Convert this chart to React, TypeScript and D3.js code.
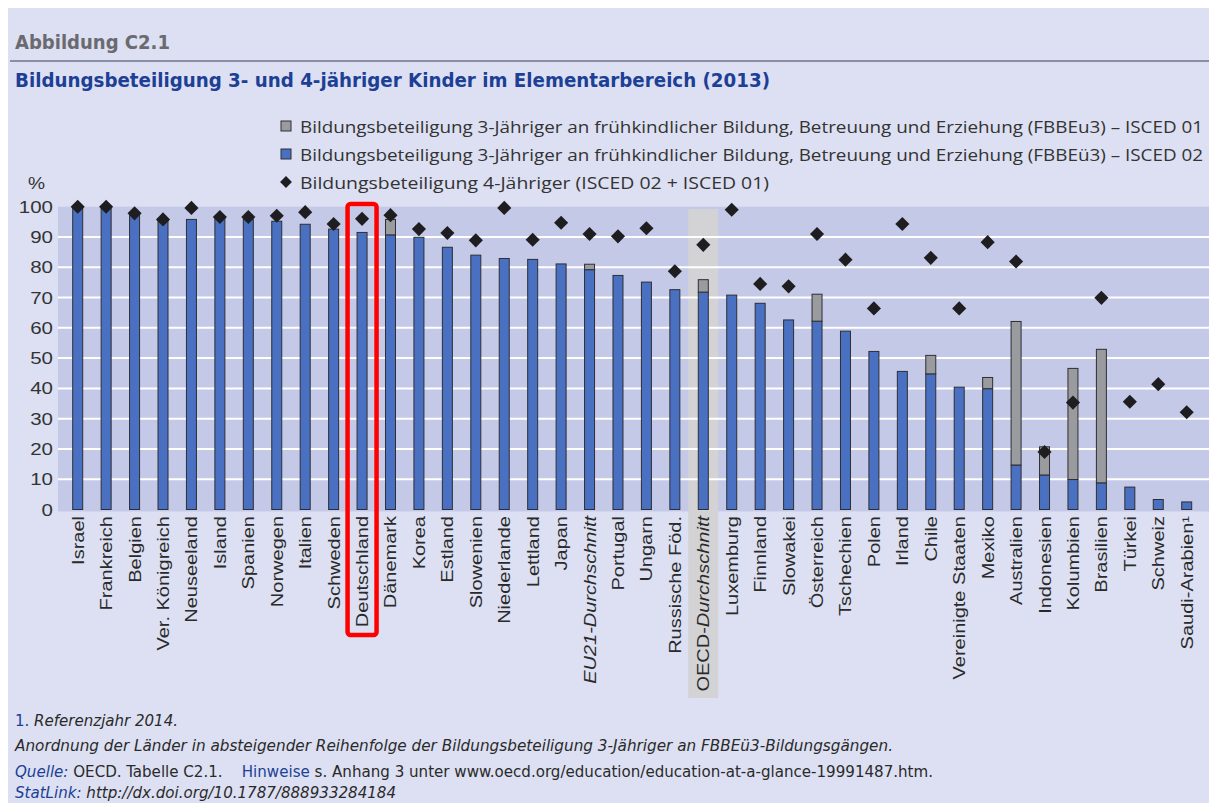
import * as d3 from "d3";
import { useEffect, useRef } from "react";

const countries = [
  "Israel", "Frankreich", "Belgien", "Ver. Königreich", "Neuseeland", "Island", "Spanien",
  "Norwegen", "Italien", "Schweden", "Deutschland", "Dänemark", "Korea", "Estland",
  "Slowenien", "Niederlande", "Lettland", "Japan", "EU21-Durchschnitt", "Portugal", "Ungarn",
  "Russische Föd.", "OECD-Durchschnitt", "Luxemburg", "Finnland", "Slowakei", "Österreich",
  "Tschechien", "Polen", "Irland", "Chile", "Vereinigte Staaten", "Mexiko", "Australien",
  "Indonesien", "Kolumbien", "Brasilien", "Türkei", "Schweiz", "Saudi-Arabien¹",
];

// ISCED 02 (blue)
const isced02 = [
  99.5, 99.5, 97.6, 95.6, 95.8, 96.2, 95.8, 95.2, 94.2, 92.6, 91.5, 90.7, 89.9, 86.6,
  84.0, 82.9, 82.6, 81.1, 79.2, 77.3, 75.1, 72.6, 71.8, 70.8, 68.1, 62.6, 62.2,
  58.9, 52.2, 45.6, 44.8, 40.4, 39.9, 14.7, 11.4, 9.9, 8.8, 7.4, 3.3, 2.5,
];

// ISCED 01 (grey, stacked on top)
const isced01 = [
  0, 0, 0, 0, 0, 0, 0, 0, 0, 0, 0, 5.1, 0, 0,
  0, 0, 0, 0, 1.8, 0, 0, 0, 4.1, 0, 0, 0, 8.9,
  0, 0, 0, 6.1, 0, 3.7, 47.4, 9.3, 36.7, 44.1, 0, 0, 0,
];

// 4-Jährige (diamonds)
const age4 = [
  100, 100, 97.8, 95.8, 99.6, 96.6, 96.6, 97.0, 98.2, 94.3, 96.0, 97.2, 92.6, 91.3,
  88.9, 99.6, 89.1, 94.7, 91.0, 90.2, 92.9, 78.7, 87.4, 99.0, 74.5, 73.7, 91.0,
  82.5, 66.4, 94.3, 83.1, 66.4, 88.3, 81.9, 19.0, 35.3, 69.9, 35.6, 41.4, 32.1,
];

const yTicks = [0, 10, 20, 30, 40, 50, 60, 70, 80, 90, 100];

const legendItems = [
  { kind: "grey", label: "Bildungsbeteiligung 3-Jähriger an frühkindlicher Bildung, Betreuung und Erziehung (FBBEu3) – ISCED 01", len: 903 },
  { kind: "blue", label: "Bildungsbeteiligung 3-Jähriger an frühkindlicher Bildung, Betreuung und Erziehung (FBBEü3) – ISCED 02", len: 903 },
  { kind: "diamond", label: "Bildungsbeteiligung 4-Jähriger (ISCED 02 + ISCED 01)", len: 469 },
];

const W = 1209, H = 803;
const BLUE = "#4a70c2", GREY = "#9a9b9f", EDGE = "#2e2e33";
const BLUE_TXT = "#1d3f96";
const LABEL_FONT = "'Liberation Sans', Arial, sans-serif";
const NARROW_FONT = "'Liberation Sans Narrow', 'DejaVu Sans Condensed', 'Liberation Sans', sans-serif";

const App = () => {
  const ref = useRef<SVGSVGElement>(null);

  useEffect(() => {
    const svg = d3.select(ref.current);
    svg.selectAll("*").remove();

    // page background
    svg.append("rect").attr("x", 8).attr("y", 8).attr("width", W - 8).attr("height", H - 8).attr("fill", "#dce0f2");

    // header
    svg.append("text").attr("x", 15).attr("y", 49).attr("font-family", NARROW_FONT).attr("font-weight", "bold")
      .attr("font-size", 19).attr("fill", "#6a6a70").attr("textLength", 155).attr("lengthAdjust", "spacingAndGlyphs")
      .text("Abbildung C2.1");
    svg.append("line").attr("x1", 10).attr("x2", W).attr("y1", 61).attr("y2", 61)
      .attr("stroke", "#8b8fa6").attr("stroke-width", 2);
    svg.append("text").attr("x", 15).attr("y", 87).attr("font-family", NARROW_FONT).attr("font-weight", "bold")
      .attr("font-size", 19).attr("fill", BLUE_TXT).attr("textLength", 755).attr("lengthAdjust", "spacingAndGlyphs")
      .text("Bildungsbeteiligung 3- und 4-jähriger Kinder im Elementarbereich (2013)");

    // scales
    const x = d3.scalePoint<string>().domain(countries).range([77.7, 1186.7]);
    const y = d3.scaleLinear().domain([0, 100]).range([509.5, 206.7]);
    const barW = 10;

    // plot background
    svg.append("rect").attr("x", 58).attr("y", y(100)).attr("width", W - 58).attr("height", y(0) - y(100) + 2)
      .attr("fill", "#c5c9e8");

    // OECD highlight
    const oecd = x("OECD-Durchschnitt")!;
    svg.append("rect").attr("x", oecd - 15).attr("y", 209).attr("width", 30).attr("height", 489).attr("fill", "#d3d3d5");

    // grid
    svg.append("g").selectAll("line").data(yTicks.filter((t) => t > 0 && t < 100)).enter().append("line")
      .attr("x1", 58).attr("x2", W).attr("y1", (d) => y(d)).attr("y2", (d) => y(d))
      .attr("stroke", "#ffffff").attr("stroke-width", 2);

    // y tick labels
    svg.append("g").selectAll("text").data(yTicks).enter().append("text")
      .attr("transform", (d) => `translate(53,${y(d) + 6}) scale(1.28,1)`)
      .attr("text-anchor", "end").attr("font-family", LABEL_FONT).attr("font-size", 16).attr("fill", "#333")
      .text((d) => d);
    svg.append("text").attr("transform", "translate(28,189) scale(1.2,1)").attr("font-family", LABEL_FONT)
      .attr("font-size", 16).attr("fill", "#333").text("%");

    // bars
    const bars = svg.append("g");
    countries.forEach((c, i) => {
      const b = isced02[i], g = isced01[i];
      bars.append("rect").attr("x", x(c)! - barW / 2).attr("y", y(b)).attr("width", barW).attr("height", y(0) - y(b))
        .attr("fill", BLUE).attr("stroke", EDGE).attr("stroke-width", 1);
      if (g > 0) {
        bars.append("rect").attr("x", x(c)! - barW / 2).attr("y", y(b + g)).attr("width", barW).attr("height", y(b) - y(b + g))
          .attr("fill", GREY).attr("stroke", EDGE).attr("stroke-width", 1);
      }
    });

    // diamonds
    const diamond = d3.symbol().type(d3.symbolSquare).size(100);
    svg.append("g").selectAll("path").data(countries).enter().append("path")
      .attr("d", diamond)
      .attr("transform", (c, i) => `translate(${x(c)},${y(age4[i])}) rotate(45)`)
      .attr("fill", "#1e1e20");

    // x labels
    const labels = svg.append("g");
    countries.forEach((c) => {
      const t = labels.append("text")
        .attr("transform", `translate(${x(c)! + 6},516) rotate(-90) scale(1.25,1)`)
        .attr("text-anchor", "end").attr("font-family", LABEL_FONT).attr("font-size", 16).attr("fill", "#2a2a2a");
      if (c === "EU21-Durchschnitt") {
        t.attr("font-style", "italic").text(c);
      } else if (c === "OECD-Durchschnitt") {
        t.append("tspan").text("OECD-");
        t.append("tspan").attr("font-style", "italic").text("Durchschnitt");
      } else {
        t.text(c);
      }
    });

    // highlight Deutschland
    const de = x("Deutschland")!;
    svg.append("rect").attr("x", de - 14.5).attr("y", 204).attr("width", 29).attr("height", 431).attr("rx", 3)
      .attr("fill", "none").attr("stroke", "#ff0000").attr("stroke-width", 4.5);

    // legend
    const leg = svg.append("g");
    legendItems.forEach((item, i) => {
      const cy = 126 + i * 28;
      if (item.kind === "diamond") {
        leg.append("path").attr("d", d3.symbol().type(d3.symbolSquare).size(70)).attr("transform", `translate(286,${cy}) rotate(45)`)
          .attr("fill", "#1e1e20");
      } else {
        leg.append("rect").attr("x", 281).attr("y", cy - 5).attr("width", 10).attr("height", 10)
          .attr("fill", item.kind === "grey" ? GREY : BLUE).attr("stroke", EDGE).attr("stroke-width", 1);
      }
      leg.append("text").attr("x", 300).attr("y", cy + 6.5).attr("font-family", "'Open Sans', 'Liberation Sans', sans-serif")
        .attr("font-size", 17).attr("fill", "#333").attr("textLength", item.len).attr("lengthAdjust", "spacingAndGlyphs")
        .text(item.label);
    });

    // footer
    const foot = svg.append("g").attr("font-family", NARROW_FONT).attr("font-size", 15).attr("fill", "#2a2a2a");
    const f1 = foot.append("text").attr("x", 15).attr("y", 726).attr("textLength", 163).attr("lengthAdjust", "spacingAndGlyphs");
    f1.append("tspan").attr("fill", BLUE_TXT).text("1.");
    f1.append("tspan").attr("font-style", "italic").text(" Referenzjahr 2014.");
    foot.append("text").attr("x", 15).attr("y", 751).attr("font-style", "italic").attr("textLength", 878)
      .attr("lengthAdjust", "spacingAndGlyphs")
      .text("Anordnung der Länder in absteigender Reihenfolge der Bildungsbeteiligung 3-Jähriger an FBBEü3-Bildungsgängen.");
    const f3 = foot.append("text").attr("x", 15).attr("y", 777).attr("textLength", 918).attr("lengthAdjust", "spacingAndGlyphs")
      .style("white-space", "pre");
    f3.append("tspan").attr("fill", BLUE_TXT).attr("font-style", "italic").text("Quelle:");
    f3.append("tspan").text(" OECD. Tabelle C2.1.    ");
    f3.append("tspan").attr("fill", BLUE_TXT).text("Hinweise");
    f3.append("tspan").text(" s. Anhang 3 unter www.oecd.org/education/education-at-a-glance-19991487.htm.");
    const f4 = foot.append("text").attr("x", 15).attr("y", 798).attr("textLength", 381).attr("lengthAdjust", "spacingAndGlyphs");
    f4.append("tspan").attr("fill", BLUE_TXT).attr("font-style", "italic").text("StatLink:");
    f4.append("tspan").attr("font-style", "italic").text(" http://dx.doi.org/10.1787/888933284184");
  }, []);

  return (
    <svg ref={ref} width={W} height={H}
      style={{ position: "absolute", left: 0, top: 0, display: "block", background: "#ffffff" }} />
  );
};

export default App;
